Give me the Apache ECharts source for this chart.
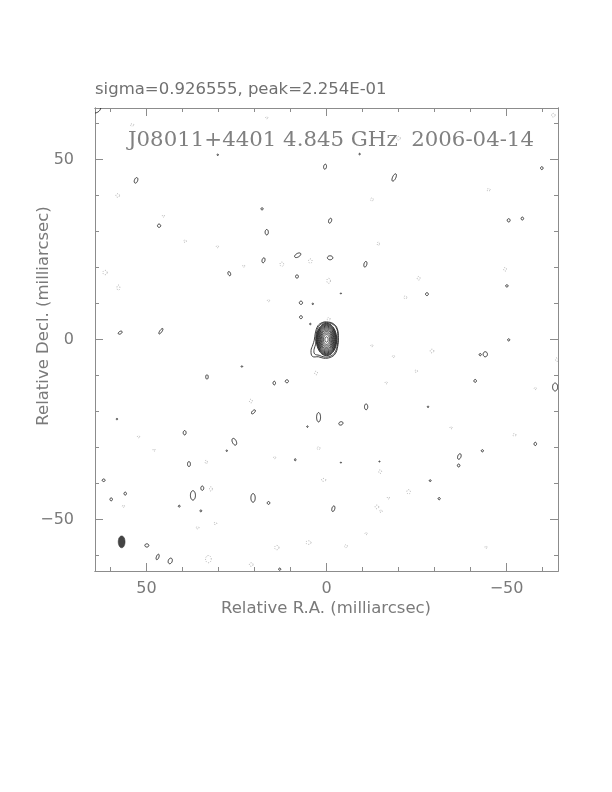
<!DOCTYPE html>
<html>
<head>
<meta charset="utf-8">
<script src="https://cdn.jsdelivr.net/npm/echarts@6/dist/echarts.min.js"></script>
<style>html,body{margin:0;padding:0;background:#fff;}#c{width:612px;height:792px;}</style>
</head>
<body>
<div id="c"></div>
<script>
// ---- data (milliarcsec) ----
const headerText = 'sigma=0.926555, peak=2.254E-01';
const titleText = 'J08011+4401 4.845 GHz  2006-04-14';
const xName = 'Relative R.A. (milliarcsec)';
const yName = 'Relative Decl. (milliarcsec)';
const axisMin = -64.3, axisMax = 64.3;
const majorTicks = [50, 0, -50];
const minorTicks = [60, 40, 30, 20, 10, -10, -20, -30, -40, -60];

// core component: concentric contour semi-axes [RA, Dec]
const coreContours = [
  [2.85, 4.5], [2.75, 4.35], [2.62, 4.15], [2.5, 3.95], [2.36, 3.72], [2.2, 3.47],
  [2.03, 3.2], [1.85, 2.9], [1.65, 2.57], [1.42, 2.2], [1.15, 1.8], [0.85, 1.35], [0.45, 0.75]
];
// outer contours with lobe to the south-east (RA, Dec pairs)
const lobeContours = [
  [[0,4.9],[-1.9,4.4],[-3.0,3.0],[-3.3,0.5],[-3.1,-2.0],[-2.4,-4.0],[-1.0,-5.0],[0.8,-5.2],[2.2,-4.8],[3.9,-4.7],[4.3,-3.1],[3.8,-1.5],[3.4,-0.2],[3.1,1.8],[2.4,3.8],[1.2,4.7]],
  [[0,4.7],[-1.8,4.2],[-2.9,2.8],[-3.15,0.4],[-2.95,-1.9],[-2.2,-3.8],[-0.9,-4.7],[0.7,-4.85],[2.0,-4.4],[3.3,-4.0],[3.45,-2.7],[3.0,-1.3],[3.0,0.3],[2.8,1.8],[2.2,3.6],[1.1,4.5]]
];
// positive noise contours [RA, Dec, semiA, semiB, tiltDeg]
const posBlobs = [
  [52.9,44.2,0.45,0.8,20],[46.5,31.6,0.45,0.45,0],[17.9,36.3,0.3,0.3,0],[16.6,29.8,0.45,0.75,0],
  [17.5,22.0,0.4,0.7,15],[27.0,18.3,0.35,0.6,-20],[8.0,23.4,0.95,0.5,-30],[8.2,17.5,0.4,0.45,0],
  [7.1,10.2,0.45,0.45,0],[7.1,6.2,0.4,0.4,0],[57.3,1.9,0.6,0.35,-30],[46.0,2.3,0.3,0.9,35],
  [0.4,48.0,0.4,0.7,10],[-18.8,45.0,0.45,1.1,25],[-59.8,47.6,0.35,0.4,0],[-1.0,33.0,0.4,0.7,20],
  [-50.6,33.1,0.4,0.45,0],[-54.4,33.6,0.35,0.4,0],[-1.0,22.7,0.75,0.55,0],[-10.8,20.9,0.4,0.8,15],
  [-50.1,14.9,0.35,0.3,0],[-27.9,12.6,0.4,0.4,0],[33.2,-10.4,0.35,0.6,0],[14.5,-12.1,0.35,0.5,0],
  [11.0,-11.6,0.45,0.4,0],[20.3,-20.1,0.35,0.7,45],[2.2,-21.6,0.55,1.3,0],[39.4,-25.9,0.4,0.6,0],
  [25.6,-28.4,0.55,1.0,-25],[38.2,-34.6,0.4,0.7,0],[61.9,-39.1,0.4,0.35,0],[55.9,-42.8,0.35,0.4,0],
  [59.8,-44.4,0.35,0.4,0],[37.1,-43.3,0.7,1.3,0],[34.5,-41.3,0.4,0.6,0],[20.4,-44.0,0.6,1.2,0],
  [16.1,-45.4,0.35,0.4,0],[49.9,-57.2,0.55,0.45,0],[46.9,-60.4,0.35,0.8,20],[43.4,-61.5,0.55,0.8,20],
  [13.0,-63.8,0.3,0.3,0],[-44.1,-4.1,0.6,0.7,0],[-42.7,-4.2,0.3,0.3,0],[-41.3,-11.5,0.35,0.4,0],
  [-63.5,-13.2,0.7,1.1,0],[-11.0,-18.7,0.45,0.8,0],[-4.0,-23.3,0.6,0.45,-20],[-58.0,-29.0,0.35,0.45,0],
  [-36.9,-32.5,0.45,0.8,20],[-36.7,-35.0,0.35,0.4,0],[-43.3,-30.9,0.3,0.3,0],[-31.3,-44.2,0.3,0.3,0],
  [-1.9,-47.0,0.4,0.8,15],[-50.6,-0.1,0.3,0.3,0],[64.5,64.5,1.8,1.6,0],
  [23.5,-7.5,0.2,0.2,0],[58.2,-22.1,0.2,0.2,0],[27.7,-30.9,0.2,0.2,0],[8.7,-33.4,0.2,0.3,0],
  [5.3,-24.2,0.2,0.2,0],[40.9,-46.3,0.25,0.25,0],[34.9,-47.6,0.25,0.25,0],[3.8,9.9,0.2,0.2,0],
  [4.5,4.3,0.2,0.2,0],[-9.2,51.5,0.2,0.2,0],[30.2,51.3,0.2,0.2,0],[-28.2,-18.7,0.2,0.2,0],
  [-28.8,-39.2,0.25,0.25,0],[-4.0,12.8,0.15,0.15,0],[-14.7,-33.9,0.15,0.15,0],[-4.0,-34.2,0.15,0.15,0]
];
// negative noise contours (dashed) [RA, Dec, semiA, semiB, tiltDeg]
const negBlobs = [
  [54,59.6,0.5,0.3,0],[58,40,0.5,0.5,0],[45.3,34.3,0.3,0.3,0],[39.3,27.3,0.4,0.3,0],[30.3,25.8,0.3,0.3,0],
  [23,20.4,0.3,0.3,0],[61.5,18.6,0.6,0.6,0],[57.8,14.4,0.4,0.7,0],[12.4,20.9,0.5,0.6,0],[4.5,21.8,0.5,0.6,0],
  [16.1,10.8,0.3,0.3,0],[16.6,61.6,0.3,0.3,0],[-20,55.9,0.5,0.5,0],[-12.6,38.9,0.4,0.4,0],[-45,41.6,0.5,0.3,0],
  [-14.4,26.6,0.3,0.5,0],[-25.6,17,0.4,0.5,0],[-49.6,19.5,0.4,0.5,0],[-0.6,16.3,0.5,0.7,0],
  [-21.9,11.7,0.4,0.4,0],[-63,62.3,0.5,0.5,0],[-0.6,5.7,0.4,0.4,0],[2.9,-9.3,0.4,0.5,0],[21,-17.1,0.4,0.5,0],
  [52.2,-27,0.3,0.3,0],[47.9,-30.7,0.3,0.3,0],[14.4,-32.8,0.3,0.3,0],[2.2,-30.2,0.4,0.4,0],[33.4,-34,0.3,0.5,0],
  [56.4,-46.3,0.3,0.3,0],[32.1,-41.5,0.4,0.6,0],[35.8,-52.3,0.4,0.3,0],[30.9,-51.1,0.4,0.3,0],
  [32.8,-61,0.8,1.0,0],[13.8,-57.8,0.6,0.6,0],[5,-56.4,0.7,0.5,0],[-29.3,-3.2,0.5,0.5,0],[-12.6,-1.7,0.3,0.3,0],
  [-18.6,-4.7,0.3,0.3,0],[-24.9,-8.8,0.4,0.3,0],[-16.6,-12,0.3,0.3,0],[-58,-13.6,0.3,0.3,0],[-64,-5.6,0.4,0.5,0],
  [-34.6,-24.5,0.3,0.3,0],[-52.2,-26.5,0.4,0.4,0],[-14.9,-36.7,0.4,0.5,0],[-22.8,-42.3,0.5,0.6,0],
  [-17.2,-44,0.3,0.3,0],[-14,-46.5,0.5,0.5,0],[-15.1,-47.7,0.4,0.3,0],[0.8,-39,0.6,0.4,0],[-11,-53.9,0.3,0.3,0],
  [-5.4,-57.4,0.4,0.4,0],[-44.3,-57.7,0.3,0.3,0],[20.9,-62.5,0.5,0.5,0]
];
// restoring beam [RA, Dec, semiA, semiB, tiltDeg]
const beam = [[56.9, -56.2, 0.95, 1.65, 0]];

// ---- rendering ----
function ellipsePoints(api, d) {
  const c = api.coord([d[0], d[1]]);
  const s = api.size([1, 1]);
  const a = d[2] * s[0], b = d[3] * s[1], th = d[4] * Math.PI / 180;
  const pts = [];
  const n = 40;
  for (let i = 0; i < n; i++) {
    const t = 2 * Math.PI * i / n;
    const u = a * Math.cos(t), v = -b * Math.sin(t);
    pts.push([c[0] + u * Math.cos(th) - v * Math.sin(th), c[1] + u * Math.sin(th) + v * Math.cos(th)]);
  }
  return pts;
}
function ellipseSeries(data, style) {
  return {
    type: 'custom', clip: true, silent: true, animation: false,
    data: data,
    encode: { x: 0, y: 1 },
    renderItem: function (params, api) {
      const d = [api.value(0), api.value(1), api.value(2), api.value(3), api.value(4)];
      return { type: 'polygon', shape: { points: ellipsePoints(api, d) }, style: style };
    }
  };
}
const solidStyle = { fill: 'none', stroke: '#1e1e1e', lineWidth: 0.9 };
const coreStyle = { fill: 'none', stroke: '#2a2a2a', lineWidth: 0.9 };
const dashStyle = { fill: 'none', stroke: '#9a9a9a', lineWidth: 0.8, lineDash: [1, 1.5] };

const coreData = coreContours.map(c => [0, 0, c[0], c[1], 0]);
const lobeData = lobeContours.map(p => [p[0][0], p[0][1]]);

const fontSans = '"DejaVu Sans", sans-serif';
const labelColor = '#7a7a7a';
const axisColor = '#8c8c8c';
const fmt = v => (v < 0 ? '\u2212' + Math.abs(v) : String(v));

function xAx(pos, vals, len, showLabel) {
  return {
    type: 'value', position: pos, min: axisMin, max: axisMax, inverse: true,
    splitLine: { show: false },
    axisLine: { show: true, onZero: false, lineStyle: { color: axisColor, width: 1 } },
    axisTick: { show: true, inside: true, length: len, customValues: vals, lineStyle: { color: axisColor } },
    axisLabel: { show: showLabel, customValues: majorTicks, formatter: fmt, margin: 10,
      color: labelColor, fontSize: 16, fontFamily: fontSans }
  };
}
function yAx(pos, vals, len, showLabel) {
  return {
    type: 'value', position: pos, min: axisMin, max: axisMax,
    splitLine: { show: false },
    axisLine: { show: true, onZero: false, lineStyle: { color: axisColor, width: 1 } },
    axisTick: { show: true, inside: true, length: len, customValues: vals, lineStyle: { color: axisColor } },
    axisLabel: { show: showLabel, customValues: majorTicks, formatter: fmt, margin: 21,
      color: labelColor, fontSize: 16, fontFamily: fontSans }
  };
}

const chart = echarts.init(document.getElementById('c'), null, { renderer: 'canvas' });
chart.setOption({
  animation: false,
  backgroundColor: '#fff',
  grid: { left: 95, right: 54, top: 108, bottom: 221, containLabel: false },
  xAxis: [xAx('bottom', majorTicks, 8, true), xAx('top', majorTicks, 8, false),
          xAx('bottom', minorTicks, 4, false), xAx('top', minorTicks, 4, false)],
  yAxis: [yAx('left', majorTicks, 8, true), yAx('right', majorTicks, 8, false),
          yAx('left', minorTicks, 4, false), yAx('right', minorTicks, 4, false)],
  graphic: [
    { type: 'text', left: 95, top: 81, style: { text: headerText, fill: '#707070', font: '16.5px ' + fontSans } },
    { type: 'text', left: 128, top: 130, style: { text: titleText, fill: '#808080', font: '21.3px "DejaVu Serif", serif' } },
    { type: 'text', x: 326, y: 609, style: { text: xName, fill: labelColor, font: '16.5px ' + fontSans, align: 'center', verticalAlign: 'middle' } },
    { type: 'text', x: 44, y: 316, rotation: Math.PI / 2, style: { text: yName, fill: labelColor, font: '16.5px ' + fontSans, align: 'center', verticalAlign: 'middle' } }
  ],
  series: [
    ellipseSeries(negBlobs, dashStyle),
    ellipseSeries(posBlobs, solidStyle),
    ellipseSeries(coreData, coreStyle),
    {
      type: 'custom', clip: true, silent: true, data: lobeData, encode: { x: 0, y: 1 },
      renderItem: function (params, api) {
        const pts = lobeContours[params.dataIndex].map(p => api.coord(p));
        return { type: 'polygon', shape: { points: pts, smooth: 0.4 }, style: coreStyle };
      }
    },
    ellipseSeries(beam, { fill: '#444', stroke: '#333', lineWidth: 0.5 })
  ]
});
</script>
</body>
</html>
